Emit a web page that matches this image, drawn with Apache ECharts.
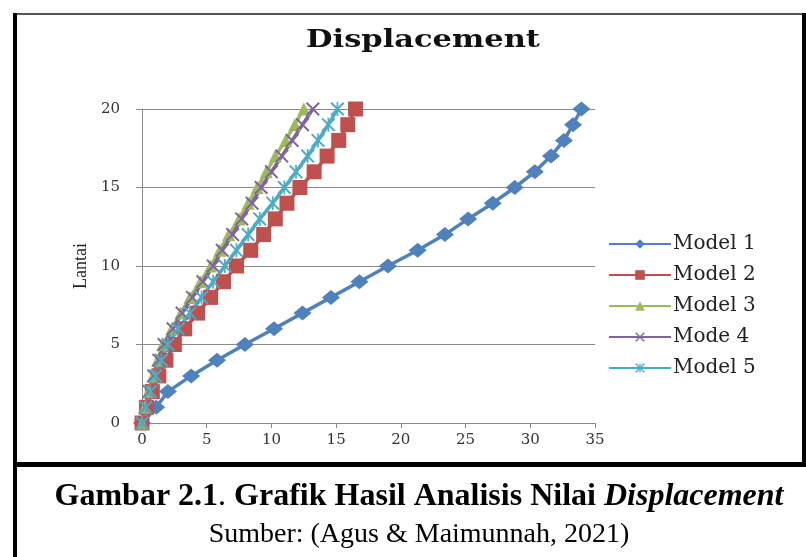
<!DOCTYPE html>
<html>
<head>
<meta charset="utf-8">
<script src="https://cdn.jsdelivr.net/npm/echarts@6/dist/echarts.min.js"></script>
<style>
  html, body { margin: 0; padding: 0; background: #fff; }
  #main { width: 806px; height: 557px; }
</style>
</head>
<body>
<div id="main"></div>
<script>
// lantai (floor) 0..20
var lantai = [0, 1, 2, 3, 4, 5, 6, 7, 8, 9, 10, 11, 12, 13, 14, 15, 16, 17, 18, 19, 20];

// displacement per model
var model1 = [0, 1.1, 2.0, 3.8, 5.8, 7.95, 10.2, 12.4, 14.6, 16.8, 19.0, 21.3, 23.4, 25.2, 27.1, 28.8, 30.35, 31.6, 32.6, 33.3, 33.95];
var model2 = [0, 0.35, 0.8, 1.3, 1.85, 2.5, 3.3, 4.3, 5.3, 6.3, 7.3, 8.4, 9.4, 10.3, 11.2, 12.2, 13.3, 14.3, 15.2, 15.9, 16.5];
var model3 = [0, 0.2, 0.5, 0.85, 1.2, 1.6, 2.3, 3.0, 3.7, 4.5, 5.3, 6.0, 6.7, 7.5, 8.2, 8.9, 9.6, 10.3, 11.1, 11.8, 12.5];
var model4 = [0, 0.25, 0.55, 0.9, 1.3, 1.7, 2.4, 3.1, 3.9, 4.7, 5.5, 6.2, 7.0, 7.7, 8.5, 9.2, 10.0, 10.8, 11.6, 12.4, 13.2];
var model5 = [0, 0.3, 0.65, 1.05, 1.5, 2.0, 2.8, 3.7, 4.6, 5.5, 6.4, 7.3, 8.2, 9.1, 10.1, 11.0, 11.9, 12.8, 13.6, 14.4, 15.1];

var namaSeri = ['Model 1', 'Model 2', 'Model 3', 'Mode 4', 'Model 5'];
var warna = ['#4F81BD', '#C0504D', '#9BBB59', '#8064A2', '#4BACC6'];

var chart = echarts.init(document.getElementById('main'));

function pasang(xs) {
    var out = [];
    for (var i = 0; i < xs.length; i++) {
        out.push([xs[i], lantai[i]]);
    }
    return out;
}

var simbolX = 'path://M0,1 L1,0 L5,4 L9,0 L10,1 L6,5 L10,9 L9,10 L5,6 L1,10 L0,9 L4,5 Z';
var simbolBintang = 'path://M0,1 L1,0 L5,4 L9,0 L10,1 L6,5 L10,9 L9,10 L5,6 L1,10 L0,9 L4,5 Z M4.4,0 L5.6,0 L5.6,10 L4.4,10 Z';

var simbol = ['diamond', 'rect', 'triangle', simbolX, simbolBintang];
var ukuran = [[18, 15], 15, 13, 14, 14];
var dataSeri = [model1, model2, model3, model4, model5];

var series = [];
for (var s = 0; s < dataSeri.length; s++) {
    series.push({
        name: namaSeri[s],
        type: 'line',
        data: pasang(dataSeri[s]),
        symbol: simbol[s],
        symbolSize: ukuran[s],
        showAllSymbol: true,
        lineStyle: { width: 3.5, color: warna[s] },
        itemStyle: { color: warna[s] },
        emphasis: { disabled: true },
        animation: false
    });
}

var serif = 'DejaVu Serif';

var option = {
    color: warna,
    legend: {
        orient: 'vertical',
        left: 603,
        top: 229,
        itemWidth: 62,
        itemHeight: 12,
        itemGap: 11,
        textStyle: { fontFamily: serif, fontSize: 20, color: '#222', padding: [0, 0, 0, -3] },
        data: namaSeri
    },
    grid: { left: 142, right: 211, top: 109, bottom: 134 },
    xAxis: {
        type: 'value',
        min: 0, max: 35, interval: 5,
        axisLine: { lineStyle: { color: '#8a8a8a', width: 1 } },
        axisTick: { show: true, length: 5, lineStyle: { color: '#8a8a8a' } },
        splitLine: { show: false },
        axisLabel: { fontFamily: serif, fontSize: 15, color: '#333', margin: 10 }
    },
    yAxis: {
        type: 'value',
        min: 0, max: 20, interval: 5,
        name: 'Lantai',
        nameLocation: 'middle',
        nameGap: 46,
        nameRotate: 90,
        nameTextStyle: { fontFamily: 'Liberation Serif', fontSize: 18, color: '#222' },
        axisLine: { show: true, lineStyle: { color: '#8a8a8a', width: 1 } },
        axisTick: { show: true, length: 6, lineStyle: { color: '#8a8a8a' } },
        splitLine: { show: true, lineStyle: { color: '#8a8a8a', width: 1 } },
        axisLabel: { fontFamily: serif, fontSize: 15, color: '#333', margin: 22 }
    },
    series: series,
    graphic: [
        { type: 'rect', shape: { x: 14, y: 13, width: 792, height: 2 }, style: { fill: '#555' }, silent: true },
        { type: 'rect', shape: { x: 13, y: 13, width: 4, height: 544 }, style: { fill: '#000' }, silent: true },
        { type: 'rect', shape: { x: 802, y: 13, width: 4, height: 453 }, style: { fill: '#000' }, silent: true },
        { type: 'rect', shape: { x: 13, y: 462, width: 793, height: 5 }, style: { fill: '#000' }, silent: true },
        {
            type: 'text', x: 423, y: 40, scaleX: 1.22,
            style: {
                text: 'Displacement', align: 'center', verticalAlign: 'middle',
                fontFamily: serif, fontWeight: 'bold', fontSize: 25, fill: '#111'
            }
        },
        {
            type: 'text', x: 419, y: 497,
            style: {
                text: '{b|Gambar 2.1}{n|. }{b|Grafik Hasil Analisis Nilai }{bi|Displacement}',
                align: 'center', verticalAlign: 'middle',
                rich: {
                    b: { fontFamily: 'Liberation Serif', fontWeight: 'bold', fontSize: 32, fill: '#000' },
                    n: { fontFamily: 'Liberation Serif', fontSize: 32, fill: '#000' },
                    bi: { fontFamily: 'Liberation Serif', fontWeight: 'bold', fontStyle: 'italic', fontSize: 32, fill: '#000' }
                }
            }
        },
        {
            type: 'text', x: 419, y: 535,
            style: {
                text: 'Sumber: (Agus & Maimunnah, 2021)', align: 'center', verticalAlign: 'middle',
                fontFamily: 'Liberation Serif', fontSize: 28, fill: '#000'
            }
        }
    ]
};

chart.setOption(option);
</script>
</body>
</html>
